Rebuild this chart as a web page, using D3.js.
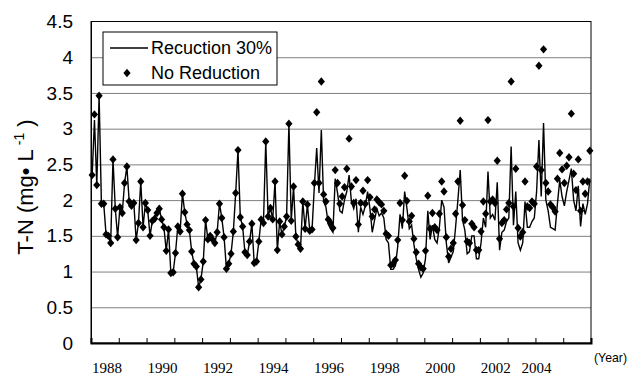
<!DOCTYPE html>
<html>
<head>
<meta charset="utf-8">
<script src="https://cdn.jsdelivr.net/npm/d3@7"></script>
<style>
  body { margin: 0; background: #fff; }
  svg { display: block; font-family: "Liberation Sans", Arial, sans-serif; }
</style>
</head>
<body>
<svg id="chart" width="629" height="380"></svg>
<script>
// monthly T-N, Jan 1988 .. Dec 2005
const noReduction = [
    2.35, 3.20, 2.21, 3.46, 1.95, 1.95, 1.52, 1.50, 1.40, 2.57, 1.88, 1.48,
    1.90, 1.82, 2.24, 2.47, 1.98, 1.92, 1.96, 1.44, 1.68, 2.26, 1.62, 1.96,
    1.86, 1.50, 1.71, 1.74, 1.82, 1.88, 1.73, 1.62, 1.29, 1.59, 0.98, 0.99,
    1.26, 1.63, 1.56, 2.09, 1.83, 1.66, 1.58, 1.28, 1.11, 1.07, 0.78, 0.89,
    1.14, 1.72, 1.45, 1.50, 1.45, 1.40, 1.55, 1.95, 1.75, 1.48, 1.04, 1.11,
    1.25, 1.56, 2.10, 2.70, 1.76, 1.63, 1.27, 1.23, 1.42, 1.67, 1.12, 1.14,
    1.42, 1.73, 1.68, 2.82, 1.77, 1.89, 1.73, 2.26, 1.30, 1.70, 1.52, 1.63,
    1.77, 3.07, 1.71, 2.19, 1.49, 1.38, 1.32, 1.98, 1.60, 1.94, 1.57, 1.59,
    2.24, 3.23, 2.24, 3.66, 2.08, 1.98, 1.73, 1.68, 1.61, 2.42, 2.24, 1.95,
    2.05, 2.18, 2.44, 2.86, 2.19, 1.96, 2.28, 1.66, 1.96, 2.13, 1.95, 2.28,
    2.04, 1.77, 1.87, 2.01, 1.97, 1.94, 1.85, 1.53, 1.50, 1.09, 1.11, 1.16,
    1.44, 1.96, 1.72, 2.34, 1.99, 1.70, 1.78, 1.46, 1.27, 1.11, 1.06, 1.04,
    1.29, 2.06, 1.60, 1.82, 1.62, 1.58, 1.81, 2.26, 2.12, 1.48, 1.21, 1.32,
    1.40, 1.81, 2.26, 3.11, 1.93, 1.72, 1.42, 1.40, 1.67, 1.62, 1.30, 1.30,
    1.56, 1.98, 1.81, 3.12, 1.98, 2.01, 1.96, 2.55, 1.46, 1.68, 1.72, 1.87,
    1.96, 3.66, 1.91, 2.44, 1.61, 1.49, 1.55, 2.26, 1.91, 1.89, 1.98, 1.95,
    2.47, 3.88, 2.42, 4.11, 2.24, 2.12, 1.94, 1.90, 1.84, 2.30, 2.66, 2.43,
    2.24, 2.48, 2.60, 3.21, 2.37, 2.14, 2.57, 1.85, 2.26, 2.09, 2.26, 2.69
];

const reduction30 = [
    2.35, 3.12, 2.21, 3.46, 1.95, 1.95, 1.52, 1.50, 1.40, 2.57, 1.88, 1.48,
    1.90, 1.82, 2.24, 2.47, 1.98, 1.92, 1.96, 1.44, 1.68, 2.26, 1.62, 1.96,
    1.86, 1.50, 1.71, 1.74, 1.82, 1.88, 1.73, 1.62, 1.29, 1.59, 0.98, 0.99,
    1.26, 1.63, 1.56, 2.09, 1.83, 1.66, 1.58, 1.28, 1.11, 1.07, 0.78, 0.89,
    1.14, 1.72, 1.45, 1.50, 1.45, 1.40, 1.55, 1.95, 1.75, 1.48, 1.04, 1.11,
    1.25, 1.56, 2.10, 2.70, 1.76, 1.63, 1.27, 1.23, 1.42, 1.67, 1.12, 1.14,
    1.42, 1.73, 1.68, 2.82, 1.77, 1.89, 1.73, 2.26, 1.30, 1.70, 1.52, 1.63,
    1.77, 3.07, 1.71, 2.19, 1.49, 1.38, 1.32, 1.98, 1.60, 1.94, 1.57, 1.59,
    2.20, 2.73, 2.10, 2.98, 1.98, 1.90, 1.66, 1.60, 1.55, 2.30, 2.10, 1.85,
    1.82, 2.00, 2.12, 2.35, 1.98, 1.88, 2.02, 1.55, 1.90, 1.80, 1.92, 2.12,
    1.88, 1.55, 1.72, 1.88, 1.78, 1.82, 1.75, 1.45, 1.40, 1.03, 1.03, 1.08,
    1.35, 1.80, 1.60, 2.12, 1.88, 1.60, 1.65, 1.38, 1.18, 1.03, 0.92, 0.98,
    1.18, 1.85, 1.45, 1.65, 1.45, 1.40, 1.62, 2.00, 1.90, 1.40, 1.12, 1.20,
    1.28, 1.62, 2.00, 2.42, 1.72, 1.58, 1.25, 1.28, 1.50, 1.50, 1.18, 1.18,
    1.40, 1.75, 1.62, 2.40, 1.75, 1.80, 1.72, 2.25, 1.30, 1.55, 1.58, 1.70,
    1.75, 2.75, 1.65, 2.12, 1.40, 1.30, 1.40, 1.98, 1.62, 1.62, 1.70, 1.75,
    2.12, 2.84, 2.05, 3.08, 2.00, 1.85, 1.62, 1.60, 1.58, 1.95, 2.28, 2.05,
    1.92, 2.12, 2.28, 2.44, 2.00, 1.85, 2.20, 1.63, 1.95, 1.80, 1.95, 2.30
];

const yTicks = [0, 0.5, 1, 1.5, 2, 2.5, 3, 3.5, 4, 4.5];
const yearTicks = d3.range(1989, 2006);
const yearLabels = [1988, 1990, 1992, 1994, 1996, 1998, 2000, 2002, 2004];
const seriesNames = ['Recuction 30%', 'No Reduction'];

const margin = { left: 91, right: 38, top: 21.5, bottom: 37 };
const width = 629 - margin.left - margin.right;
const height = 380 - margin.top - margin.bottom;

const svg = d3.select('#chart');
const g = svg.append('g')
    .attr('transform', `translate(${margin.left},${margin.top})`);

const x = d3.scaleLinear()
    .domain([0, noReduction.length])
    .range([0, width]);

const xYear = d3.scaleLinear()
    .domain([1988, 2006])
    .range([0, width]);

const y = d3.scaleLinear()
    .domain([0, 4.5])
    .range([height, 0]);

// grid
g.append('g')
    .attr('class', 'grid')
    .call(d3.axisLeft(y).tickValues(yTicks.slice(1, -1)).tickSize(-width).tickFormat(''))
    .call(s => s.select('.domain').remove())
    .selectAll('line')
        .attr('stroke', '#7f7f7f')
        .attr('stroke-width', 1);

// frame
g.append('rect')
    .attr('width', width)
    .attr('height', height)
    .attr('fill', 'none')
    .attr('stroke', '#000')
    .attr('stroke-width', 1);

// y axis
const yAxis = g.append('g')
    .call(d3.axisLeft(y).tickValues(yTicks).tickSize(0).tickPadding(18)
        .tickFormat(d => d));
yAxis.select('.domain').attr('stroke', '#000');
yAxis.selectAll('text')
    .attr('font-size', 19)
    .attr('font-family', '"Liberation Sans", Arial, sans-serif')
    .attr('fill', '#000');

// x axis ticks (year boundaries, inside)
const xAxis = g.append('g')
    .attr('transform', `translate(0,${height})`)
    .call(d3.axisBottom(xYear).tickValues(yearTicks).tickSize(-5).tickFormat(''));
xAxis.select('.domain').attr('stroke', '#000').attr('stroke-width', 2);
xAxis.selectAll('line').attr('stroke', '#000');

// year labels, centred on the year; the last one squeezed left for the unit
g.append('g')
    .selectAll('text')
    .data(yearLabels)
    .enter()
        .append('text')
        .attr('x', d => d === 2004 ? xYear(d) + 1 : xYear(d + 0.5) + 2)
        .attr('y', height + 30)
        .attr('text-anchor', 'middle')
        .attr('font-size', 15)
        .attr('font-family', '"Liberation Serif", "Times New Roman", serif')
        .attr('fill', '#000')
        .text(d => d);

svg.append('text')
    .attr('x', 594)
    .attr('y', 362)
    .attr('font-size', 13)
    .attr('textLength', 33)
    .attr('lengthAdjust', 'spacingAndGlyphs')
    .text('(Year)');

// y title
svg.append('text')
    .attr('transform', 'translate(33,187) rotate(-90)')
    .attr('text-anchor', 'middle')
    .attr('font-size', 22)
    .call(t => {
        t.append('tspan').text('T-N (mg• L');
        t.append('tspan').attr('font-size', 14).attr('dy', -9).text(' -1');
        t.append('tspan').attr('dy', 9).text(' )');
    });

// series
const line = d3.line()
    .x((d, i) => x(i + 0.5))
    .y(d => y(d));

g.append('path')
    .datum(reduction30)
    .attr('fill', 'none')
    .attr('stroke', '#000')
    .attr('stroke-width', 1.4)
    .attr('d', line);

const diamond = 'M0,-4.2L3.6,0L0,4.2L-3.6,0Z';

g.selectAll('.pt')
    .data(noReduction)
    .enter()
        .append('path')
        .attr('class', 'pt')
        .attr('transform', (d, i) => `translate(${x(i + 0.5)},${y(d)})`)
        .attr('d', diamond)
        .attr('fill', '#000');

// legend
const legend = svg.append('g')
    .attr('transform', 'translate(103,32)');

legend.append('rect')
    .attr('width', 174)
    .attr('height', 53)
    .attr('fill', '#fff')
    .attr('stroke', '#000')
    .attr('stroke-width', 1);

legend.append('line')
    .attr('x1', 7).attr('x2', 45)
    .attr('y1', 16).attr('y2', 16)
    .attr('stroke', '#000')
    .attr('stroke-width', 1.4);

legend.append('path')
    .attr('transform', 'translate(24,41)')
    .attr('d', diamond)
    .attr('fill', '#000');

legend.selectAll('.leg-text')
    .data(seriesNames)
    .enter()
        .append('text')
        .attr('class', 'leg-text')
        .attr('x', 48)
        .attr('y', (d, i) => 16 + i * 25)
        .attr('dy', '0.35em')
        .attr('font-size', 18)
        .text(d => d);
</script>
</body>
</html>
